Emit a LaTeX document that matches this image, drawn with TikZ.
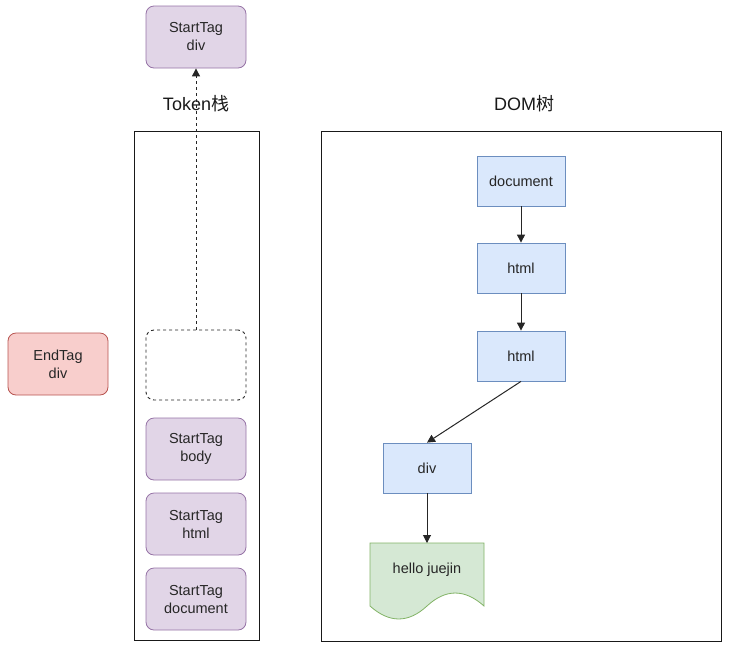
\documentclass[tikz,border=0pt]{standalone}
\usepackage{fontspec}
\setmainfont{Liberation Sans}
\newfontfamily\cjk{Noto Sans CJK SC}
\usetikzlibrary{arrows.meta}
\definecolor{pfill}{HTML}{E1D5E7}
\definecolor{pdraw}{HTML}{9673A6}
\definecolor{rfill}{HTML}{F8CECC}
\definecolor{rdraw}{HTML}{B85450}
\definecolor{bfill}{HTML}{DAE8FC}
\definecolor{bdraw}{HTML}{6C8EBF}
\definecolor{gfill}{HTML}{D5E8D4}
\definecolor{gdraw}{HTML}{82B366}
\definecolor{txt}{HTML}{262626}
\begin{document}
\begin{tikzpicture}[x=1pt,y=-1pt,
  tok/.style={draw=pdraw,fill=pfill,rounded corners=8pt,minimum width=100pt,minimum height=62pt,
    align=center,font=\fontsize{14.5}{18}\selectfont,text=txt,line width=0.8pt},
  endtok/.style={tok,draw=rdraw,fill=rfill},
  dombox/.style={draw=bdraw,fill=bfill,minimum width=88pt,minimum height=50pt,
    font=\fontsize{14.5}{18}\selectfont,text=txt,line width=0.8pt},
  frame/.style={draw=black!90,line width=1pt},
  title/.style={font=\fontsize{18}{20}\selectfont,text=black!90},
  conn/.style={draw=black!85,line width=1pt,-{Triangle[length=8pt,width=8pt]}}]
\useasboundingbox (0,0) rectangle (729,649);
% frames
\node[frame,minimum width=125pt,minimum height=509pt,inner sep=0pt] (stack) at (196.5,385.5) {};
\node[frame,minimum width=400pt,minimum height=510pt,inner sep=0pt] (dom) at (521,386) {};
\node[title] (ttok) at (196,104) {Token\cjk{栈}};
\node[title] (tdom) at (524,104) {DOM\cjk{树}};
% token stack
\node[tok] (sdiv) at (196,37) {StartTag\\div};
\node[draw=black!85,dashed,rounded corners=8pt,minimum width=100pt,minimum height=70pt,line width=0.9pt] (slot) at (196,365) {};
\node[tok] (sbody) at (196,449) {StartTag\\body};
\node[tok] (shtml) at (196,524) {StartTag\\html};
\node[tok] (sdoc) at (196,599) {StartTag\\document};
\node[endtok] (ediv) at (58,364) {EndTag\\div};
\draw[conn,dashed] (slot.north) -- (sdiv.south);
% DOM tree
\node[dombox] (ddoc) at (521,181) {document};
\node[dombox] (dhtml1) at (521,268) {html};
\node[dombox] (dhtml2) at (521,356) {html};
\node[dombox] (ddiv) at (427,468) {div};
\draw[draw=gdraw,fill=gfill,line width=0.8pt] (370,543) -- (484,543) -- (484,606)
  .. controls (464.7,588.7) and (445.7,588.7) .. (427,606)
  .. controls (408.3,623.3) and (389.3,623.3) .. (370,606) -- cycle;
\node[font=\fontsize{14.5}{18}\selectfont,text=txt] (hello) at (427,570) {hello juejin};
\coordinate (htop) at (427,543);
\draw[conn] (ddoc) -- (dhtml1);
\draw[conn] (dhtml1) -- (dhtml2);
\draw[conn] (dhtml2.south) -- (ddiv.north);
\draw[conn] (ddiv) -- (htop);
\end{tikzpicture}
\end{document}
